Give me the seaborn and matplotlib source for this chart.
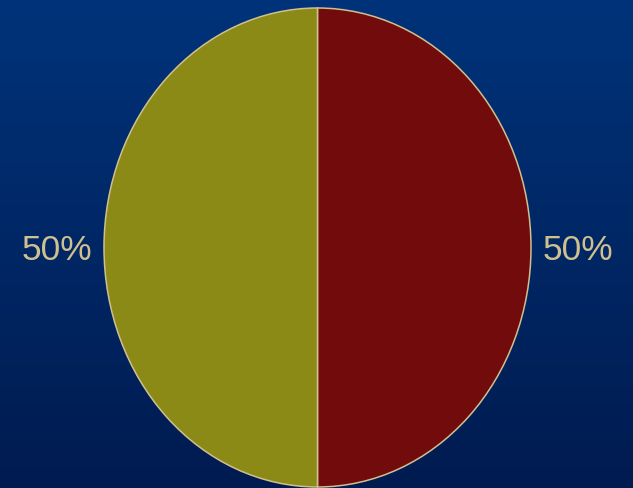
import numpy as np
import seaborn as sns
import matplotlib.pyplot as plt
from matplotlib.colors import LinearSegmentedColormap

# data
shares = [50, 50]
slice_colors = ["#720b0b", "#8c8a16"]

sns.set_theme(style="white")
plt.rcParams['font.family'] = ['Liberation Sans', 'DejaVu Sans']

fig = plt.figure(figsize=(6.33, 4.88), dpi=100)

# gradient background
bg = fig.add_axes([0, 0, 1, 1])
grad = np.linspace(0, 1, 256).reshape(-1, 1)
cmap = LinearSegmentedColormap.from_list("bg", ["#00337a", "#001b50"])
bg.imshow(grad, aspect="auto", cmap=cmap, extent=[0, 1, 0, 1], origin="upper")
bg.axis("off")

# pie (stretched into an ellipse)
ax = fig.add_axes([104 / 633, 1 / 488, 427 / 633, 479 / 488])
wedges, texts, autotexts = ax.pie(
    shares, colors=slice_colors, startangle=90, counterclock=False,
    autopct='%1.0f%%', pctdistance=1.22,
    wedgeprops=dict(edgecolor="#d0c090", linewidth=1.1),
    textprops=dict(color="#d0c090", fontsize=25.5),
)
for t in autotexts:
    t.set_verticalalignment("center_baseline")
ax.set_aspect("auto")
ax.set_xlim(-1, 1)
ax.set_ylim(-1, 1)
ax.axis("off")

fig.savefig("out.png", dpi=100)
